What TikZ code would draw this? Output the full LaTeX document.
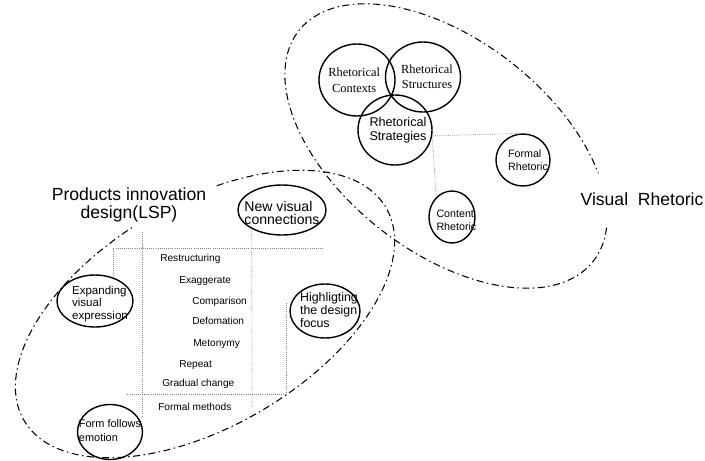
\documentclass[tikz,border=0pt]{standalone}
\usepackage{fontspec}
\setmainfont{Liberation Sans}
\newfontfamily\timesfont{Liberation Serif}
\usetikzlibrary{shapes.geometric}

\newcommand{\setfs}[2]{\fontsize{#1}{#2}\selectfont}

\begin{document}
\begin{tikzpicture}[x=0.025cm, y=-0.025cm,
    ring/.style={draw, ellipse, line width=1pt, inner sep=0pt},
    note/.style={align=left, inner sep=0pt},
    item/.style={anchor=west, inner sep=0pt, font=\setfs{7.2}{8}},
    zone/.style={line width=0.75pt, dash pattern=on 5pt off 2.5pt on 1pt off 2.5pt},
    guide/.style={gray, densely dotted, line width=0.5pt},
    title/.style={align=center, inner sep=0pt, font=\setfs{12.5}{13}}]
  \useasboundingbox (0,0) rectangle (705,461);

  % the two dash-dot areas
  \draw[zone, shift={(446,146)}, rotate=-38, variable=\t, domain=-19:317, samples=120]
    plot ({187*cos(\t)}, {106*sin(\t)});
  \draw[zone, shift={(205,314)}, rotate=30.5, variable=\t, domain=-69:265, samples=120]
    plot ({210*cos(\t)}, {112*sin(\t)});

  % visual rhetoric
  \node[ring, minimum width=1.9cm, minimum height=1.8cm,
    label={[note, align=center, xshift=-0.07cm, font=\timesfont\setfs{8.8}{11.5}]center:Rhetorical\\Contexts}] (ctx) at (357,80) {};
  \node[ring, minimum width=1.875cm, minimum height=1.75cm,
    label={[note, align=center, xshift=0.1cm, font=\timesfont\setfs{8.8}{10.7}]center:Rhetorical\\Structures}] (str) at (423,77) {};
  \node[ring, minimum width=1.85cm, minimum height=1.75cm,
    label={[note, align=center, xshift=0.075cm, font=\setfs{9}{10.2}]center:Rhetorical\\Strategies}] (stg) at (395,130) {};
  \node[ring, minimum width=1.35cm, minimum height=1.3cm,
    label={[note, xshift=0.125cm, font=\setfs{7.6}{9.5}]center:Formal\\Rhetoric}] (fml) at (523,160) {};
  \node[ring, minimum width=1.15cm, minimum height=1.3cm,
    label={[note, xshift=0.11cm, yshift=-0.075cm, font=\setfs{7.6}{9.5}]center:Content\\Rhetoric}] (cnt) at (452,217) {};
  \node[title] (vr) at (642,199) {Visual\ \ Rhetoric};

  \draw[guide] (fml.96) -- (stg.-9) -- (cnt.128);

  % products innovation design
  \node[title] (lsp) at (129,205) {Products innovation\\design(LSP)};
  \node[ring, minimum width=2.2cm, minimum height=1.25cm,
    label={[note, yshift=-0.075cm, font=\setfs{10}{9.5}]center:New visual\\connections}] (nvc) at (282,210) {};
  \node[ring, minimum width=1.9cm, minimum height=1.3cm,
    label={[note, xshift=0.125cm, yshift=-0.075cm, font=\setfs{8.2}{8.9}]center:Expanding\\visual\\expression}] (exp) at (95,301) {};
  \node[ring, minimum width=1.75cm, minimum height=1.35cm,
    label={[note, xshift=0.1cm, yshift=0.025cm, font=\setfs{8.8}{9.5}]center:Highligting\\the design\\focus}] (hlt) at (325,311) {};
  \node[ring, minimum width=1.625cm, minimum height=1.375cm,
    label={[note, yshift=0.04cm, font=\setfs{7.8}{10}]center:Form follows\\emotion}] (ffe) at (110,432) {};

  \node[item] (m1) at (160,259) {Restructuring};
  \node[item] (m2) at (179,281) {Exaggerate};
  \node[item] (m3) at (192,302) {Comparison};
  \node[item] (m4) at (192,321) {Defomation};
  \node[item] (m5) at (193,344) {Metonymy};
  \node[item] (m6) at (179,365) {Repeat};
  \node[item] (m7) at (162,384) {Gradual change};
  \node[item] (m8) at (158,407) {Formal methods};

  \coordinate (topR) at (323,248);
  \coordinate (colA) at (142,232);
  \coordinate (colAend) at (142,417);
  \coordinate (colB) at (252,407);
  \coordinate (botL) at (127,394);
  \coordinate (hltL) at (286,303);

  \draw[guide] (exp.52) |- (topR);
  \draw[guide] (colA) -- (colAend);
  \draw[guide] (nvc.212) -- (colB);
  \draw[guide] (hltL) |- (botL);
\end{tikzpicture}
\end{document}
